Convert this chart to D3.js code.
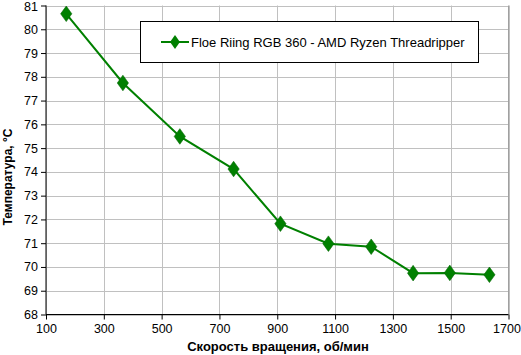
<!DOCTYPE html>
<html><head><meta charset="utf-8">
<script src="https://cdn.jsdelivr.net/npm/d3@7"></script>
<style>body{margin:0;background:#fff}svg{display:block;font-family:"Liberation Sans",Arial,sans-serif}</style>
</head><body>
<svg id="c" width="521" height="355"></svg>
<script>
const rpm = [170, 366, 563, 749, 911, 1077, 1225, 1370, 1497, 1634];
const temp = [80.65, 77.74, 75.49, 74.12, 71.82, 70.98, 70.85, 69.74, 69.75, 69.67];
const seriesName = "Floe Riing RGB 360 - AMD Ryzen Threadripper";
const xTicks = [100, 300, 500, 700, 900, 1100, 1300, 1500, 1700];
const yTicks = [68, 69, 70, 71, 72, 73, 74, 75, 76, 77, 78, 79, 80, 81];
const xTitle = "Скорость вращения, об/мин";
const yTitle = "Температура, °C";

const svg = d3.select("#c");
const L = 46, R = 508.5, T = 5.5, B = 314.5;
const x = d3.scaleLinear().domain([100, 1700]).range([L, R]);
const y = d3.scaleLinear().domain([68, 81]).range([B, T]);

// grid
svg.append("g").selectAll("line").data(yTicks).join("line")
  .attr("x1", L).attr("x2", R).attr("y1", d => Math.round(y(d)) + 0.5).attr("y2", d => Math.round(y(d)) + 0.5)
  .attr("stroke", "#c0c0c0").attr("stroke-width", 1);
svg.append("g").selectAll("line").data(xTicks).join("line")
  .attr("y1", T).attr("y2", B).attr("x1", d => Math.round(x(d)) + 0.5).attr("x2", d => Math.round(x(d)) + 0.5)
  .attr("stroke", "#c0c0c0").attr("stroke-width", 1);
// right border
svg.append("line").attr("x1", R).attr("x2", R).attr("y1", T).attr("y2", B).attr("stroke", "#a0a0a0");

// axes
const yAxis = d3.axisLeft(y).tickValues(yTicks).tickSize(5).tickPadding(3).tickFormat(d3.format("d"));
const xAxis = d3.axisBottom(x).tickValues(xTicks).tickSize(5).tickPadding(5).tickFormat(d3.format("d"));
const gy = svg.append("g").attr("transform", `translate(${L},0)`).call(yAxis);
const gx = svg.append("g").attr("transform", `translate(0,${B})`).call(xAxis);
[gx, gy].forEach(g => {
  g.selectAll("path,line").attr("stroke", "#000");
  g.select(".domain").attr("d", g === gx ? `M${L},0H${R}` : `M0,${T}V${B}`);
  g.selectAll("text").attr("font-size", 12.5).attr("fill", "#000").attr("font-family", "Liberation Sans, Arial, sans-serif");
});
gy.selectAll(".tick text").filter(d => d === 81).attr("dy", "0.42em");
gx.selectAll(".tick text").filter(d => d === 1700).attr("dx", "-2");

// line
const line = d3.line().x((d, i) => x(rpm[i])).y(d => y(d));
svg.append("path").datum(temp).attr("d", line).attr("fill", "none")
  .attr("stroke", "#008000").attr("stroke-width", 2);
const diamond = d3.symbol().type(d3.symbolDiamond).size(70);
svg.append("g").selectAll("path").data(temp).join("path")
  .attr("d", diamond).attr("transform", (d, i) => `translate(${x(rpm[i])},${y(d)}) scale(1.25,1)`)
  .attr("fill", "#008000").attr("stroke", "#006400").attr("stroke-width", 0.5);

// legend
const lg = svg.append("g");
lg.append("rect").attr("x", 140.5).attr("y", 21.5).attr("width", 338).attr("height", 41)
  .attr("fill", "#fff").attr("stroke", "#000").attr("stroke-width", 1);
lg.append("line").attr("x1", 161).attr("x2", 189).attr("y1", 42).attr("y2", 42).attr("stroke", "#008000").attr("stroke-width", 2);
lg.append("path").attr("d", diamond).attr("transform", "translate(175,42) scale(1.1,0.9)").attr("fill", "#008000");
lg.append("text").attr("x", 191).attr("y", 46.5).attr("font-size", 13).attr("fill", "#000").text(seriesName);

// titles
svg.append("text").attr("x", 278).attr("y", 351).attr("text-anchor", "middle")
  .attr("font-size", 13).attr("font-weight", "bold").text(xTitle);
svg.append("text").attr("transform", `translate(12,177) rotate(-90)`).attr("text-anchor", "middle")
  .attr("font-size", 12).attr("font-weight", "bold").text(yTitle);
</script>
</body></html>
